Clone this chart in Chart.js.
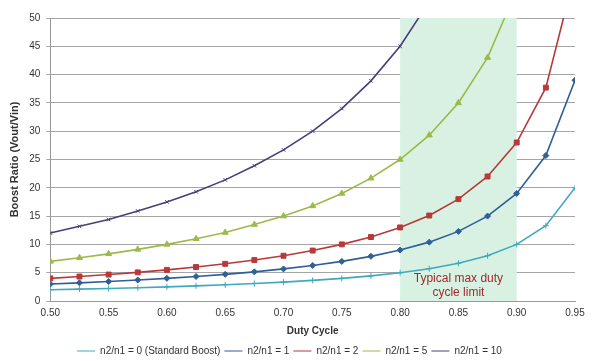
<!DOCTYPE html>
<html>
<head>
<meta charset="utf-8">
<script src="https://cdn.jsdelivr.net/npm/chart.js@4/dist/chart.umd.min.js"></script>
<style>
  html, body { margin: 0; padding: 0; background: #fff; }
  #wrap { width: 599px; height: 361px; }
</style>
</head>
<body>
<div id="wrap"><canvas id="boost-chart" width="599" height="361"></canvas></div>
<script>
// duty cycle points
const duty = [0.500, 0.525, 0.550, 0.575, 0.600, 0.625, 0.650, 0.675, 0.700, 0.725,
              0.750, 0.775, 0.800, 0.825, 0.850, 0.875, 0.900, 0.925, 0.950];

// boost ratio, one array per turns ratio
const ratio0 = [2.0, 2.1, 2.2, 2.35, 2.5, 2.67, 2.86, 3.08, 3.33, 3.64, 4.0, 4.44, 5.0, 5.71, 6.67, 8.0, 10.0, 13.3, 20.0];
const ratio1 = [3.0, 3.21, 3.44, 3.71, 4.0, 4.33, 4.71, 5.15, 5.67, 6.27, 7.0, 7.89, 9.0, 10.4, 12.3, 15.0, 19.0, 25.7, 39.0];
const ratio2 = [4.0, 4.32, 4.67, 5.06, 5.5, 6.0, 6.57, 7.23, 8.0, 8.91, 10.0, 11.3, 13.0, 15.1, 18.0, 22.0, 28.0, 37.7, 58.0];
const ratio5 = [7.0, 7.63, 8.33, 9.12, 10.0, 11.0, 12.1, 13.5, 15.0, 16.8, 19.0, 21.7, 25.0, 29.3, 35.0, 43.0, 55.0, 72.3, 115];
const ratio10 = [12.0, 13.2, 14.4, 15.9, 17.5, 19.3, 21.4, 23.9, 26.7, 30.0, 34.0, 38.9, 45.0, 52.9, 63.3, 79.0, 100, 133, 210];

const seriesNames = ['n2/n1 = 0 (Standard Boost)', 'n2/n1 = 1', 'n2/n1 = 2', 'n2/n1 = 5', 'n2/n1 = 10'];
const seriesColors = ['#3fa9bd', '#2f5f96', '#b8393a', '#9bbb48', '#4a3d78'];
const markerStyles = ['cross', 'rectRot', 'rect', 'triangle', 'crossRot'];
const markerSizes = [3, 3, 3.5, 3.5, 2.5];

// shaded "typical limit" band on the duty axis
const limitBand = [0.80, 0.90];
const limitLabel = ['Typical max duty', 'cycle limit'];
const limitLabelY = [3.9, 1.4];

const allSeries = [ratio0, ratio1, ratio2, ratio5, ratio10];

const datasets = allSeries.map((vals, i) => ({
    label: seriesNames[i],
    data: vals.map((v, j) => ({ x: duty[j], y: v })),
    borderColor: seriesColors[i],
    backgroundColor: seriesColors[i],
    borderWidth: 1.6,
    pointStyle: markerStyles[i],
    pointRadius: markerSizes[i],
    pointBorderWidth: 1,
    tension: 0,
    order: 5 - i
}));

const bandPlugin = {
    id: 'band',
    beforeDatasetsDraw(chart) {
        const { ctx, chartArea, scales } = chart;
        const x1 = scales.x.getPixelForValue(limitBand[0]);
        const x2 = scales.x.getPixelForValue(limitBand[1]);
        ctx.save();
        ctx.fillStyle = '#d8f1e2';
        ctx.fillRect(x1, chartArea.top, x2 - x1, chartArea.bottom - chartArea.top);
        ctx.restore();
    },
    afterDatasetsDraw(chart) {
        const { ctx, scales } = chart;
        const cx = scales.x.getPixelForValue((limitBand[0] + limitBand[1]) / 2);
        ctx.save();
        ctx.fillStyle = '#9e2a2a';
        ctx.font = '12px "Liberation Sans", Arial, sans-serif';
        ctx.textAlign = 'center';
        ctx.textBaseline = 'middle';
        ctx.fillText(limitLabel[0], cx, scales.y.getPixelForValue(limitLabelY[0]));
        ctx.fillText(limitLabel[1], cx, scales.y.getPixelForValue(limitLabelY[1]));
        ctx.restore();
    }
};

Chart.defaults.font.family = '"Liberation Sans", Arial, sans-serif';
Chart.defaults.color = '#333';

new Chart(document.getElementById('boost-chart'), {
    type: 'line',
    data: { datasets: datasets },
    plugins: [bandPlugin],
    options: {
        responsive: false,
        animation: false,
        layout: { padding: { left: 4, right: 24, top: 18, bottom: -5 } },
        scales: {
            x: {
                type: 'linear',
                min: 0.5,
                max: 0.95,
                ticks: {
                    stepSize: 0.05,
                    font: { size: 10 },
                    padding: 6,
                    callback: (v) => v.toFixed(2)
                },
                grid: { display: false, drawTicks: false },
                border: { color: '#9a9a9a' },
                title: { display: true, text: 'Duty Cycle', font: { size: 10, weight: 'bold' }, padding: { top: 0, bottom: 5 } }
            },
            y: {
                min: 0,
                max: 50,
                ticks: { stepSize: 5, font: { size: 10 }, padding: 6 },
                grid: { color: '#a6a6a6', drawTicks: true, tickLength: 4 },
                border: { color: '#9a9a9a' },
                title: { display: true, text: 'Boost Ratio (Vout/Vin)', font: { size: 11, weight: 'bold' }, padding: { bottom: 2 } }
            }
        },
        plugins: {
            legend: {
                position: 'bottom',
                labels: {
                    usePointStyle: true,
                    pointStyle: 'line',
                    pointStyleWidth: 18,
                    boxHeight: 6,
                    font: { size: 10 },
                    padding: 4,
                    sort: (a, b) => a.datasetIndex - b.datasetIndex
                }
            },
            tooltip: { enabled: false }
        }
    }
});
</script>
</body>
</html>
